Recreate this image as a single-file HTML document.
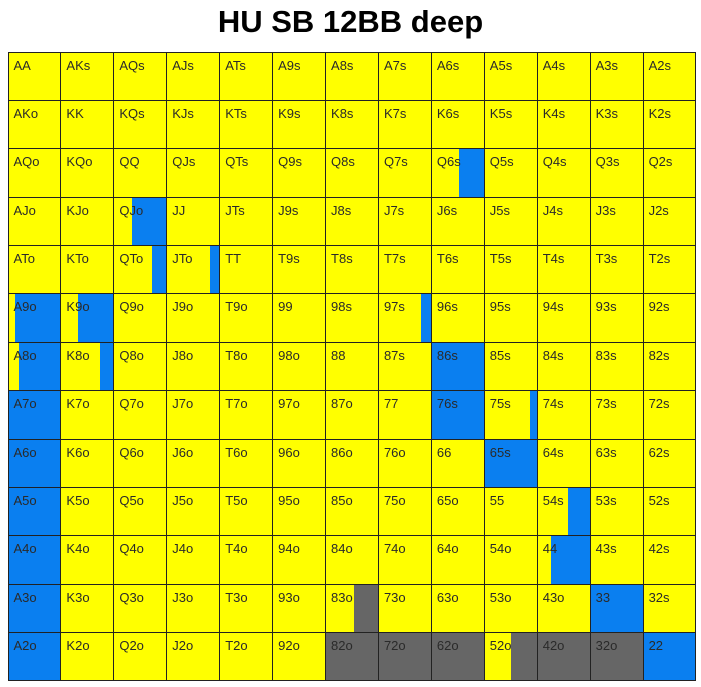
<!DOCTYPE html>
<html><head><meta charset="utf-8"><style>
body{margin:0;width:701px;height:687px;background:#fff;overflow:hidden;position:relative;font-family:"Liberation Sans",sans-serif}
#title{position:absolute;left:0;width:701px;top:4px;text-align:center;font-weight:bold;font-size:31px;color:#000}
#grid{position:absolute;left:8px;top:52px;width:688px;height:629px;background:#ffff00}
.cell{position:absolute;box-sizing:border-box;border:1px solid #222;overflow:hidden;background:#ffff00}
.fill{position:absolute;top:0;bottom:0;right:0}
.lbl{position:absolute;left:5px;top:5px;font-size:13px;color:#2a2a2a}
</style></head><body>
<div id="title">HU SB 12BB deep</div>
<div id="grid"></div>
<script>
const ranks=["A","K","Q","J","T","9","8","7","6","5","4","3","2"];
// fraction of each cell filled blue (right side), row-major 13x13
const blueFrac=[
[0,0,0,0,0,0,0,0,0,0,0,0,0],
[0,0,0,0,0,0,0,0,0,0,0,0,0],
[0,0,0,0,0,0,0,0,0.47,0,0,0,0],
[0,0,0.66,0,0,0,0,0,0,0,0,0,0],
[0,0,0.28,0.17,0,0,0,0,0,0,0,0,0],
[0.87,0.68,0,0,0,0,0,0.19,0,0,0,0,0],
[0.79,0.26,0,0,0,0,0,0,1,0,0,0,0],
[1,0,0,0,0,0,0,0,1,0.13,0,0,0],
[1,0,0,0,0,0,0,0,0,1,0,0,0],
[1,0,0,0,0,0,0,0,0,0,0.42,0,0],
[1,0,0,0,0,0,0,0,0,0,0.75,0,0],
[1,0,0,0,0,0,0,0,0,0,0,1,0],
[1,0,0,0,0,0,0,0,0,0,0,0,1]];
// fraction of each cell filled grey (right side)
const greyFrac=[
[0,0,0,0,0,0,0,0,0,0,0,0,0],[0,0,0,0,0,0,0,0,0,0,0,0,0],[0,0,0,0,0,0,0,0,0,0,0,0,0],
[0,0,0,0,0,0,0,0,0,0,0,0,0],[0,0,0,0,0,0,0,0,0,0,0,0,0],[0,0,0,0,0,0,0,0,0,0,0,0,0],
[0,0,0,0,0,0,0,0,0,0,0,0,0],[0,0,0,0,0,0,0,0,0,0,0,0,0],[0,0,0,0,0,0,0,0,0,0,0,0,0],
[0,0,0,0,0,0,0,0,0,0,0,0,0],[0,0,0,0,0,0,0,0,0,0,0,0,0],
[0,0,0,0,0,0,0.47,0,0,0,0,0,0],
[0,0,0,0,0,0,1,1,1,0.5,1,1,0]];
const grid=document.getElementById('grid');
const W=688/13,H=629/13;
for(let r=0;r<13;r++)for(let c=0;c<13;c++){
  const lab=r===c?ranks[r]+ranks[c]:(c>r?ranks[r]+ranks[c]+"s":ranks[c]+ranks[r]+"o");
  const d=document.createElement('div');
  d.className='cell';
  
  
  d.style.left=(c*W-0.5)+'px';d.style.top=(r*H-0.5)+'px';
  d.style.width=(W+1)+'px';d.style.height=(H+1)+'px';
  if(blueFrac[r][c]>0){const f=document.createElement('div');f.className='fill';f.style.background='#0a7ff0';f.style.width=(blueFrac[r][c]*100)+'%';
    
    
    d.appendChild(f);}
  if(greyFrac[r][c]>0){const f=document.createElement('div');f.className='fill';f.style.background='#666666';f.style.width=(greyFrac[r][c]*100)+'%';
    
    
    d.appendChild(f);}
  const t=document.createElement('span');t.className='lbl';t.textContent=lab;
  
  
  d.appendChild(t);
  grid.appendChild(d);
}
</script>
</body></html>
